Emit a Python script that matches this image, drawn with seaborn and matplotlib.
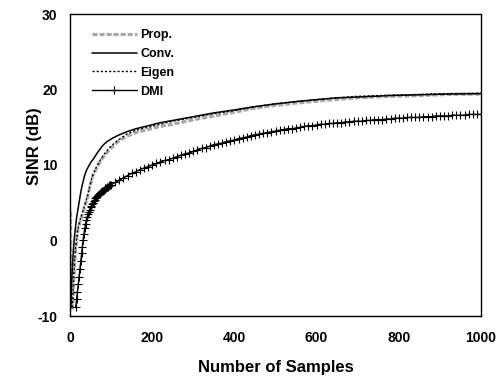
import numpy as np
import pandas as pd
import matplotlib
matplotlib.use("Agg")
import matplotlib.pyplot as plt
import seaborn as sns

# ---- data ----
conv_n = [2, 4, 6, 8, 10, 13, 16, 19, 22, 25, 28, 31, 35, 40, 45, 50, 57, 65, 73, 80, 90,
          105, 120, 138, 160, 190, 219, 250, 300, 350, 400, 446, 500, 550, 608, 650, 700,
          779, 850, 920, 1000]
conv_v = [-8.5, -5.5, -3.3, -1.5, 0.0, 1.6, 3.0, 4.0, 5.0, 6.0, 6.9, 7.6, 8.5, 9.3, 9.8, 10.3,
          10.8, 11.5, 12.1, 12.6, 13.1, 13.6, 14.0, 14.4, 14.8, 15.2, 15.6, 15.9, 16.4, 16.9,
          17.3, 17.7, 18.1, 18.4, 18.7, 18.9, 19.0, 19.2, 19.3, 19.4, 19.45]

prop_n = [1, 2, 3, 5, 7, 9, 11, 14, 19, 25, 31, 37, 43, 49, 55, 63, 71, 80, 96, 110, 120,
          138, 160, 190, 219, 250, 300, 350, 400, 446, 500, 550, 608, 650, 700, 779, 850,
          920, 1000]
prop_v = [3.8, -2.0, -7.0, -9.2, -8.0, -5.5, -3.0, -1.0, 1.4, 2.6, 3.6, 4.7, 5.8, 7.2, 8.5,
          9.4, 10.2, 11.0, 12.0, 12.8, 13.2, 13.8, 14.3, 14.7, 15.1, 15.4, 16.0, 16.5, 17.0,
          17.5, 17.9, 18.2, 18.5, 18.7, 18.9, 19.1, 19.2, 19.35, 19.4]

eigen_n = prop_n
eigen_v = [-2.0, -6.0, -8.8, -9.0, -7.5, -5.0, -2.8, -0.8, 1.5, 2.8, 3.8, 4.9, 6.0, 7.4, 8.6,
           9.6, 10.4, 11.2, 12.3, 13.0, 13.4, 14.1, 14.6, 15.0, 15.4, 15.8, 16.3, 16.8, 17.2,
           17.7, 18.1, 18.4, 18.7, 18.9, 19.1, 19.25, 19.35, 19.45, 19.5]

dmi_n = list(range(14, 101, 2)) + list(range(110, 1001, 10))
dmi_v = [-8.8, -7.8, -6.8, -5.8, -4.8, -3.8, -2.7, -1.7, -0.8, 0.1, 0.9, 1.6, 2.2, 2.7, 3.1,
         3.5, 3.8, 4.1, 4.4, 4.6, 4.8, 5.0, 5.2, 5.4, 5.6, 5.7, 5.9, 6.0, 6.1, 6.2, 6.3, 6.4,
         6.5, 6.6, 6.7, 6.8, 6.9, 7.0, 7.1, 7.1, 7.2, 7.3, 7.3, 7.4,
         7.7, 8.0, 8.3, 8.6, 8.9, 9.1, 9.4, 9.6, 9.8, 10.0,
         10.2, 10.4, 10.6, 10.7, 10.9, 11.1, 11.3, 11.5, 11.6, 11.8,
         12.0, 12.2, 12.3, 12.5, 12.7, 12.8, 12.9, 13.1, 13.2, 13.3,
         13.5, 13.6, 13.7, 13.9, 14.0, 14.1, 14.2, 14.3, 14.4, 14.5,
         14.6, 14.7, 14.8, 14.8, 14.9, 15.0, 15.1, 15.2, 15.2, 15.3,
         15.4, 15.4, 15.5, 15.5, 15.6, 15.6, 15.7, 15.7, 15.8, 15.8,
         15.8, 15.9, 15.9, 16.0, 16.0, 16.0, 16.1, 16.1, 16.2, 16.2,
         16.2, 16.3, 16.3, 16.3, 16.3, 16.4, 16.4, 16.4, 16.5, 16.5,
         16.5, 16.5, 16.6, 16.6, 16.6, 16.6, 16.7, 16.7, 16.7, 16.7]

x_ticks = [0, 200, 400, 600, 800, 1000]
y_ticks = [-10, 0, 10, 20, 30]
x_label = "Number of Samples"
y_label = "SINR (dB)"

# ---- style ----
sns.set_style("white")
plt.rcParams["font.family"] = ["Liberation Sans", "DejaVu Sans"]
plt.rcParams["font.weight"] = "bold"
for k in ["text.color", "axes.labelcolor", "xtick.color", "ytick.color", "axes.edgecolor"]:
    plt.rcParams[k] = "black"

fig = plt.figure(figsize=(4.98, 3.81), dpi=100)
ax = fig.add_axes([70 / 498, 65 / 381, 411 / 498, 302 / 381])

sns.lineplot(x=prop_n, y=prop_v, ax=ax, color="0.66", lw=2.3, label="Prop.", sort=False)
ax.lines[-1].set_dashes([1.6, 0.6])
sns.lineplot(x=conv_n, y=conv_v, ax=ax, color="black", lw=1.1, label="Conv.", sort=False)
sns.lineplot(x=eigen_n, y=eigen_v, ax=ax, color="black", lw=1.0, label="Eigen", sort=False)
ax.lines[-1].set_linestyle((0, (1.5, 1.5)))
sns.lineplot(x=dmi_n, y=dmi_v, ax=ax, color="black", lw=1.0, marker="+",
             markersize=5.5, markeredgewidth=0.8, markeredgecolor="black",
             label="DMI", sort=False)

ax.set_xlim(0, 1000)
ax.set_ylim(-10, 30)
ax.set_xticks(x_ticks)
ax.set_yticks(y_ticks)
ax.set_xticklabels([str(t) for t in x_ticks], fontsize=10, fontweight="bold")
ax.set_yticklabels([str(t) for t in y_ticks], fontsize=10, fontweight="bold")
ax.tick_params(axis="x", direction="in", length=4, width=1, pad=11, color="black")
ax.tick_params(axis="y", direction="in", length=4, width=1, pad=9, color="black")
for s in ax.spines.values():
    s.set_visible(True)
    s.set_color("black")
    s.set_linewidth(1.0)

ax.set_xlabel(x_label, fontsize=12, fontweight="bold")
ax.set_ylabel(y_label, fontsize=12, fontweight="bold")
ax.xaxis.set_label_coords(0.5, -0.145)
ax.yaxis.set_label_coords(-0.068, 0.563)

leg = ax.legend(loc="upper left", bbox_to_anchor=(0.053, 0.95), frameon=False,
                handlelength=3.6, handletextpad=0.3, labelspacing=0.55,
                borderpad=0.0, borderaxespad=0.0, prop={"weight": "bold", "size": 9})

fig.savefig("out.png", dpi=100)
